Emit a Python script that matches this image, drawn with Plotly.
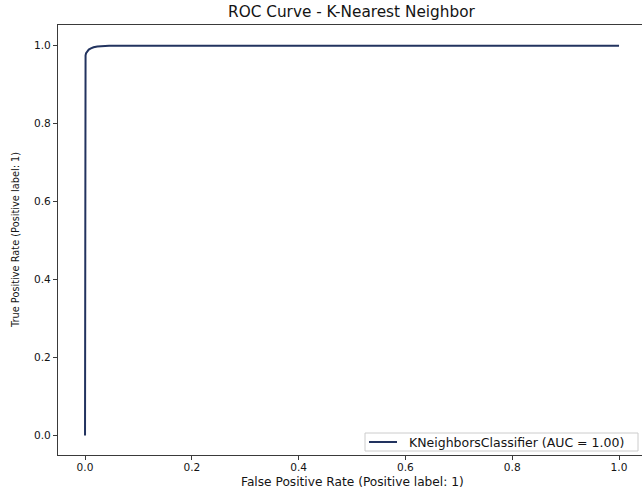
import plotly.graph_objects as go

# ROC curve points for the K-Nearest Neighbor classifier
fpr = [0.0, 0.0, 0.001, 0.002, 0.004, 0.007, 0.011, 0.016, 0.023, 0.032, 0.045, 0.06, 1.0]
tpr = [0.0, 0.965, 0.975, 0.981, 0.986, 0.990, 0.993, 0.996, 0.998, 0.9993, 1.0, 1.0, 1.0]
series_name = "KNeighborsClassifier (AUC = 1.00)"
tick_vals = [0.0, 0.2, 0.4, 0.6, 0.8, 1.0]
tick_text = ["0.0", "0.2", "0.4", "0.6", "0.8", "1.0"]

W, H = 642, 488
L, R, T, B = 58, 0, 25, 33
plot_w = W - L - R
plot_h = H - T - B

TEXT = "#141414"
AXIS = "#3a3a3a"
LINE = "#22335f"
FONT = "DejaVu Sans"

fig = go.Figure()
fig.add_trace(go.Scatter(
    x=fpr, y=tpr, mode="lines", name=series_name,
    line=dict(color=LINE, width=2), showlegend=False,
))

axis_common = dict(
    showgrid=False, zeroline=False, showline=True, linecolor=AXIS, linewidth=1,
    ticks="outside", ticklen=4, tickwidth=1, tickcolor=AXIS,
    tickvals=tick_vals, ticktext=tick_text,
    tickfont=dict(family=FONT, size=10.6, color=TEXT),
)

fig.update_xaxes(range=[-0.0506, 1.043], mirror=True, ticklabelstandoff=-2, **axis_common)
fig.update_yaxes(range=[-0.05, 1.053], mirror=False, **axis_common)


def px_x(p):
    return (p - L) / plot_w


def px_y(p):
    return (H - B - p) / plot_h


fig.add_annotation(
    text="ROC Curve - K-Nearest Neighbor", xref="x", yref="paper",
    x=0.5, y=px_y(12), xanchor="center", yanchor="middle", showarrow=False,
    font=dict(family=FONT, size=15.3, color=TEXT),
)
fig.add_annotation(
    text="False Positive Rate (Positive label: 1)", xref="x", yref="paper",
    x=0.5, y=px_y(481.5), xanchor="center", yanchor="middle", showarrow=False,
    font=dict(family=FONT, size=12.2, color=TEXT),
)
fig.add_annotation(
    text="True Positive Rate (Positive label: 1)", xref="paper", yref="y",
    x=px_x(15.5), y=0.5, xanchor="center", yanchor="middle", showarrow=False,
    textangle=-90, font=dict(family=FONT, size=9.8, color=TEXT),
)

# Legend box in the lower-right corner of the axes
fig.add_shape(
    type="rect", xref="paper", yref="paper",
    x0=px_x(365), x1=px_x(638), y0=px_y(451), y1=px_y(433),
    line=dict(color="#cccccc", width=1), fillcolor="white", layer="above",
)
fig.add_shape(
    type="line", xref="paper", yref="paper",
    x0=px_x(369), x1=px_x(397), y0=px_y(442), y1=px_y(442),
    line=dict(color=LINE, width=2), layer="above",
)
fig.add_annotation(
    text=series_name, xref="paper", yref="paper",
    x=px_x(407), y=px_y(442), xanchor="left", yanchor="middle", showarrow=False,
    font=dict(family=FONT, size=12.5, color=TEXT),
)

fig.update_layout(
    width=W, height=H,
    margin=dict(l=L, r=R, t=T, b=B),
    paper_bgcolor="white", plot_bgcolor="white",
    showlegend=False,
)

fig.write_html("out.html")
